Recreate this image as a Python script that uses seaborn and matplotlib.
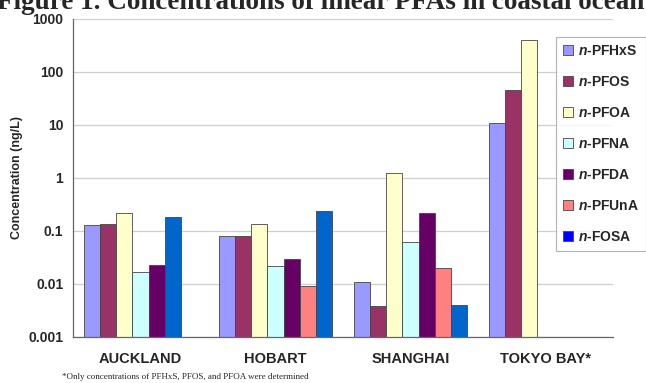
import numpy as np
import pandas as pd
import matplotlib
matplotlib.use("Agg")
import matplotlib.pyplot as plt
import seaborn as sns

sites = ["AUCKLAND", "HOBART", "SHANGHAI", "TOKYO BAY*"]
compounds = ["PFHxS", "PFOS", "PFOA", "PFNA", "PFDA", "PFUnA", "FOSA"]

pfhxs = [0.13, 0.082, 0.011, 11]
pfos = [0.135, 0.079, 0.0039, 45]
pfoa = [0.22, 0.137, 1.24, 410]
pfna = [0.017, 0.0215, 0.063, np.nan]
pfda = [0.023, 0.030, 0.22, np.nan]
pfuna = [np.nan, 0.0092, 0.0198, np.nan]
fosa = [0.18, 0.235, 0.0041, np.nan]

colors = ["#9999FF", "#993366", "#FFFFCC", "#CCFFFF", "#660066", "#FF8080", "#0066CC"]
legend_colors = ["#9999FF", "#993366", "#FFFFCC", "#CCFFFF", "#660066", "#FF8080", "#0000FF"]

ytick_vals = [0.001, 0.01, 0.1, 1, 10, 100, 1000]
ytick_labels = ["0.001", "0.01", "0.1", "1", "10", "100", "1000"]

values = [pfhxs, pfos, pfoa, pfna, pfda, pfuna, fosa]
rows = []
for comp, vals in zip(compounds, values):
    for site, v in zip(sites, vals):
        rows.append({"Site": site, "Compound": comp, "Conc": v})
df = pd.DataFrame(rows).dropna()

sns.set_style("white")
plt.rcParams["font.family"] = ["Liberation Sans", "DejaVu Sans"]
plt.rcParams["mathtext.fontset"] = "custom"
plt.rcParams["mathtext.it"] = "Liberation Sans:italic:bold"
plt.rcParams["mathtext.rm"] = "Liberation Sans:bold"

fig = plt.figure(figsize=(6.46, 3.83), dpi=100)
ax = fig.add_axes([73 / 646, 1 - 337 / 383, (613 - 73) / 646, (337 - 19) / 383])

sns.barplot(data=df, x="Site", y="Conc", hue="Compound", order=sites,
            hue_order=compounds, palette=dict(zip(compounds, colors)),
            width=0.83, gap=0, saturation=1, edgecolor="#454545",
            linewidth=0.6, ax=ax, legend=True)
ax.set_yscale("log")
ax.set_ylim(0.001, 1000)
ax.set_xlim(-0.5, len(sites) - 0.5)

# Auckland has no PFUnA; in the original its FOSA bar sits in the PFUnA slot
fosa_bars = list(ax.containers[-1])
first = min(fosa_bars, key=lambda b: b.get_x())
first.set_x(first.get_x() - first.get_width())

ax.set_yticks(ytick_vals)
ax.set_yticklabels(ytick_labels)
ax.minorticks_off()
ax.set_xticks(np.arange(len(sites)) + 0.5, minor=True)
ax.tick_params(axis="y", which="major", direction="out", length=4, width=0.8,
               color="#666666", labelsize=10, pad=3)
ax.tick_params(axis="x", which="major", length=0, labelsize=10.5, pad=11)
ax.tick_params(axis="x", which="minor", direction="out", length=4, width=0.8,
               color="#666666")
for lbl in ax.get_xticklabels() + ax.get_yticklabels():
    lbl.set_fontweight("bold")

ax.yaxis.grid(True, color="#cfcfcf", linewidth=0.9)
ax.set_axisbelow(True)
for s in ["top", "right"]:
    ax.spines[s].set_visible(False)
for s in ["left", "bottom"]:
    ax.spines[s].set_color("#666666")
    ax.spines[s].set_linewidth(0.9)

ax.set_xlabel("")
ax.set_ylabel("Concentration (ng/L)", fontsize=9, fontweight="bold", labelpad=4)

handles, _ = ax.get_legend_handles_labels()
for h, c in zip(handles, legend_colors):
    h.set_facecolor(c)
    h.set_edgecolor("#454545")
leg = ax.legend(handles, ["$n$-" + c for c in compounds],
                loc="upper left", bbox_to_anchor=(556 / 646, 1 - 37 / 383),
                bbox_transform=fig.transFigure, frameon=True, fancybox=False,
                prop={"weight": "bold", "size": 10}, handlelength=0.7,
                handleheight=0.7, handletextpad=0.4, labelspacing=1.22,
                borderpad=0.5, borderaxespad=0)
leg.get_frame().set_edgecolor("#a0a0a0")
leg.get_frame().set_linewidth(0.8)

fig.text(-3 / 646, 1 - 9 / 383,
         "Figure 1. Concentrations of linear PFAs in coastal ocean",
         fontsize=19.5, fontweight="bold", family="Liberation Serif",
         va="baseline", ha="left")
fig.text(62 / 646, 1 - 377 / 383,
         "*Only concentrations of PFHxS, PFOS, and PFOA were determined",
         fontsize=6.5, family="Liberation Serif", va="center", ha="left")

fig.savefig("out.png", dpi=100)
